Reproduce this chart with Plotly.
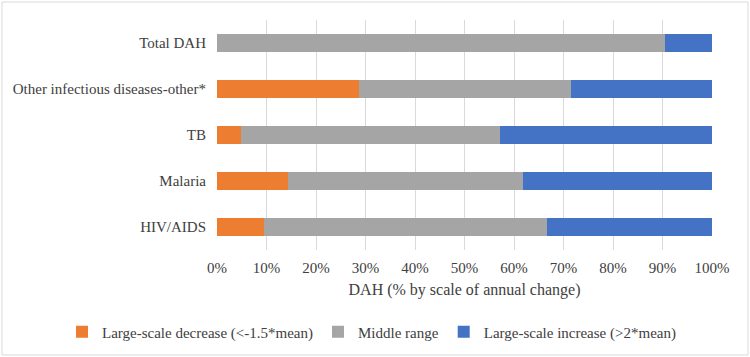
import plotly.graph_objects as go

categories = ["HIV/AIDS", "Malaria", "TB", "Other infectious diseases-other*", "Total DAH"]
decrease = [9.5, 14.3, 4.8, 28.6, 0.0]
middle = [57.1, 47.6, 52.4, 42.9, 90.5]
increase = [33.4, 38.1, 42.8, 28.5, 9.5]
series_names = ["Large-scale decrease (<-1.5*mean)", "Middle range", "Large-scale increase (>2*mean)"]
colors = ["#ED7D31", "#A5A5A5", "#4472C4"]
tick_vals = [0, 10, 20, 30, 40, 50, 60, 70, 80, 90, 100]
tick_text = [f"{v}%" for v in tick_vals]

SERIF = "Liberation Serif"
TXT = "#404040"

fig = go.Figure()
for name, vals, c in zip(series_names, [decrease, middle, increase], colors):
    fig.add_trace(go.Bar(y=categories, x=vals, name=name, orientation="h",
                         marker=dict(color=c, line=dict(width=0))))

W, H = 750, 357
ml, mr, mt, mb = 217, 38, 20, 107
pw, ph = W - ml - mr, H - mt - mb

fig.update_layout(
    width=W, height=H, barmode="stack", bargap=0.6,
    margin=dict(l=ml, r=mr, t=mt, b=mb, autoexpand=False),
    paper_bgcolor="white", plot_bgcolor="white",
    font=dict(family=SERIF, size=15, color=TXT),
    xaxis=dict(range=[0, 100], tickvals=tick_vals, ticktext=tick_text, automargin=False,
               showgrid=True, gridcolor="#D9D9D9", gridwidth=1, zeroline=False,
               ticks="", ticklabelstandoff=7, tickfont=dict(family=SERIF, size=15, color=TXT),
               title=dict(text="DAH (% by scale of annual change)", font=dict(family=SERIF, size=16, color=TXT), standoff=8)),
    yaxis=dict(showgrid=False, ticks="", automargin=False, ticklabelstandoff=10,
               tickfont=dict(family=SERIF, size=15, color=TXT)),
    legend=dict(orientation="h", xref="paper", x=(62 - ml) / pw, xanchor="left",
                yref="paper", y=(H - mb - 332) / ph, yanchor="middle",
                font=dict(family=SERIF, size=15, color=TXT), traceorder="normal", itemwidth=30),
    shapes=[dict(type="rect", xref="paper", yref="paper",
                 x0=(2 - ml) / pw, x1=(748 - ml) / pw,
                 y0=(H - mb - 355) / ph, y1=(H - mb - 2) / ph,
                 line=dict(color="#D9D9D9", width=1), fillcolor="rgba(0,0,0,0)", layer="above")],
)
fig.write_html("out.html", config={"displayModeBar": False}, post_script="document.body.style.margin='0px';")
